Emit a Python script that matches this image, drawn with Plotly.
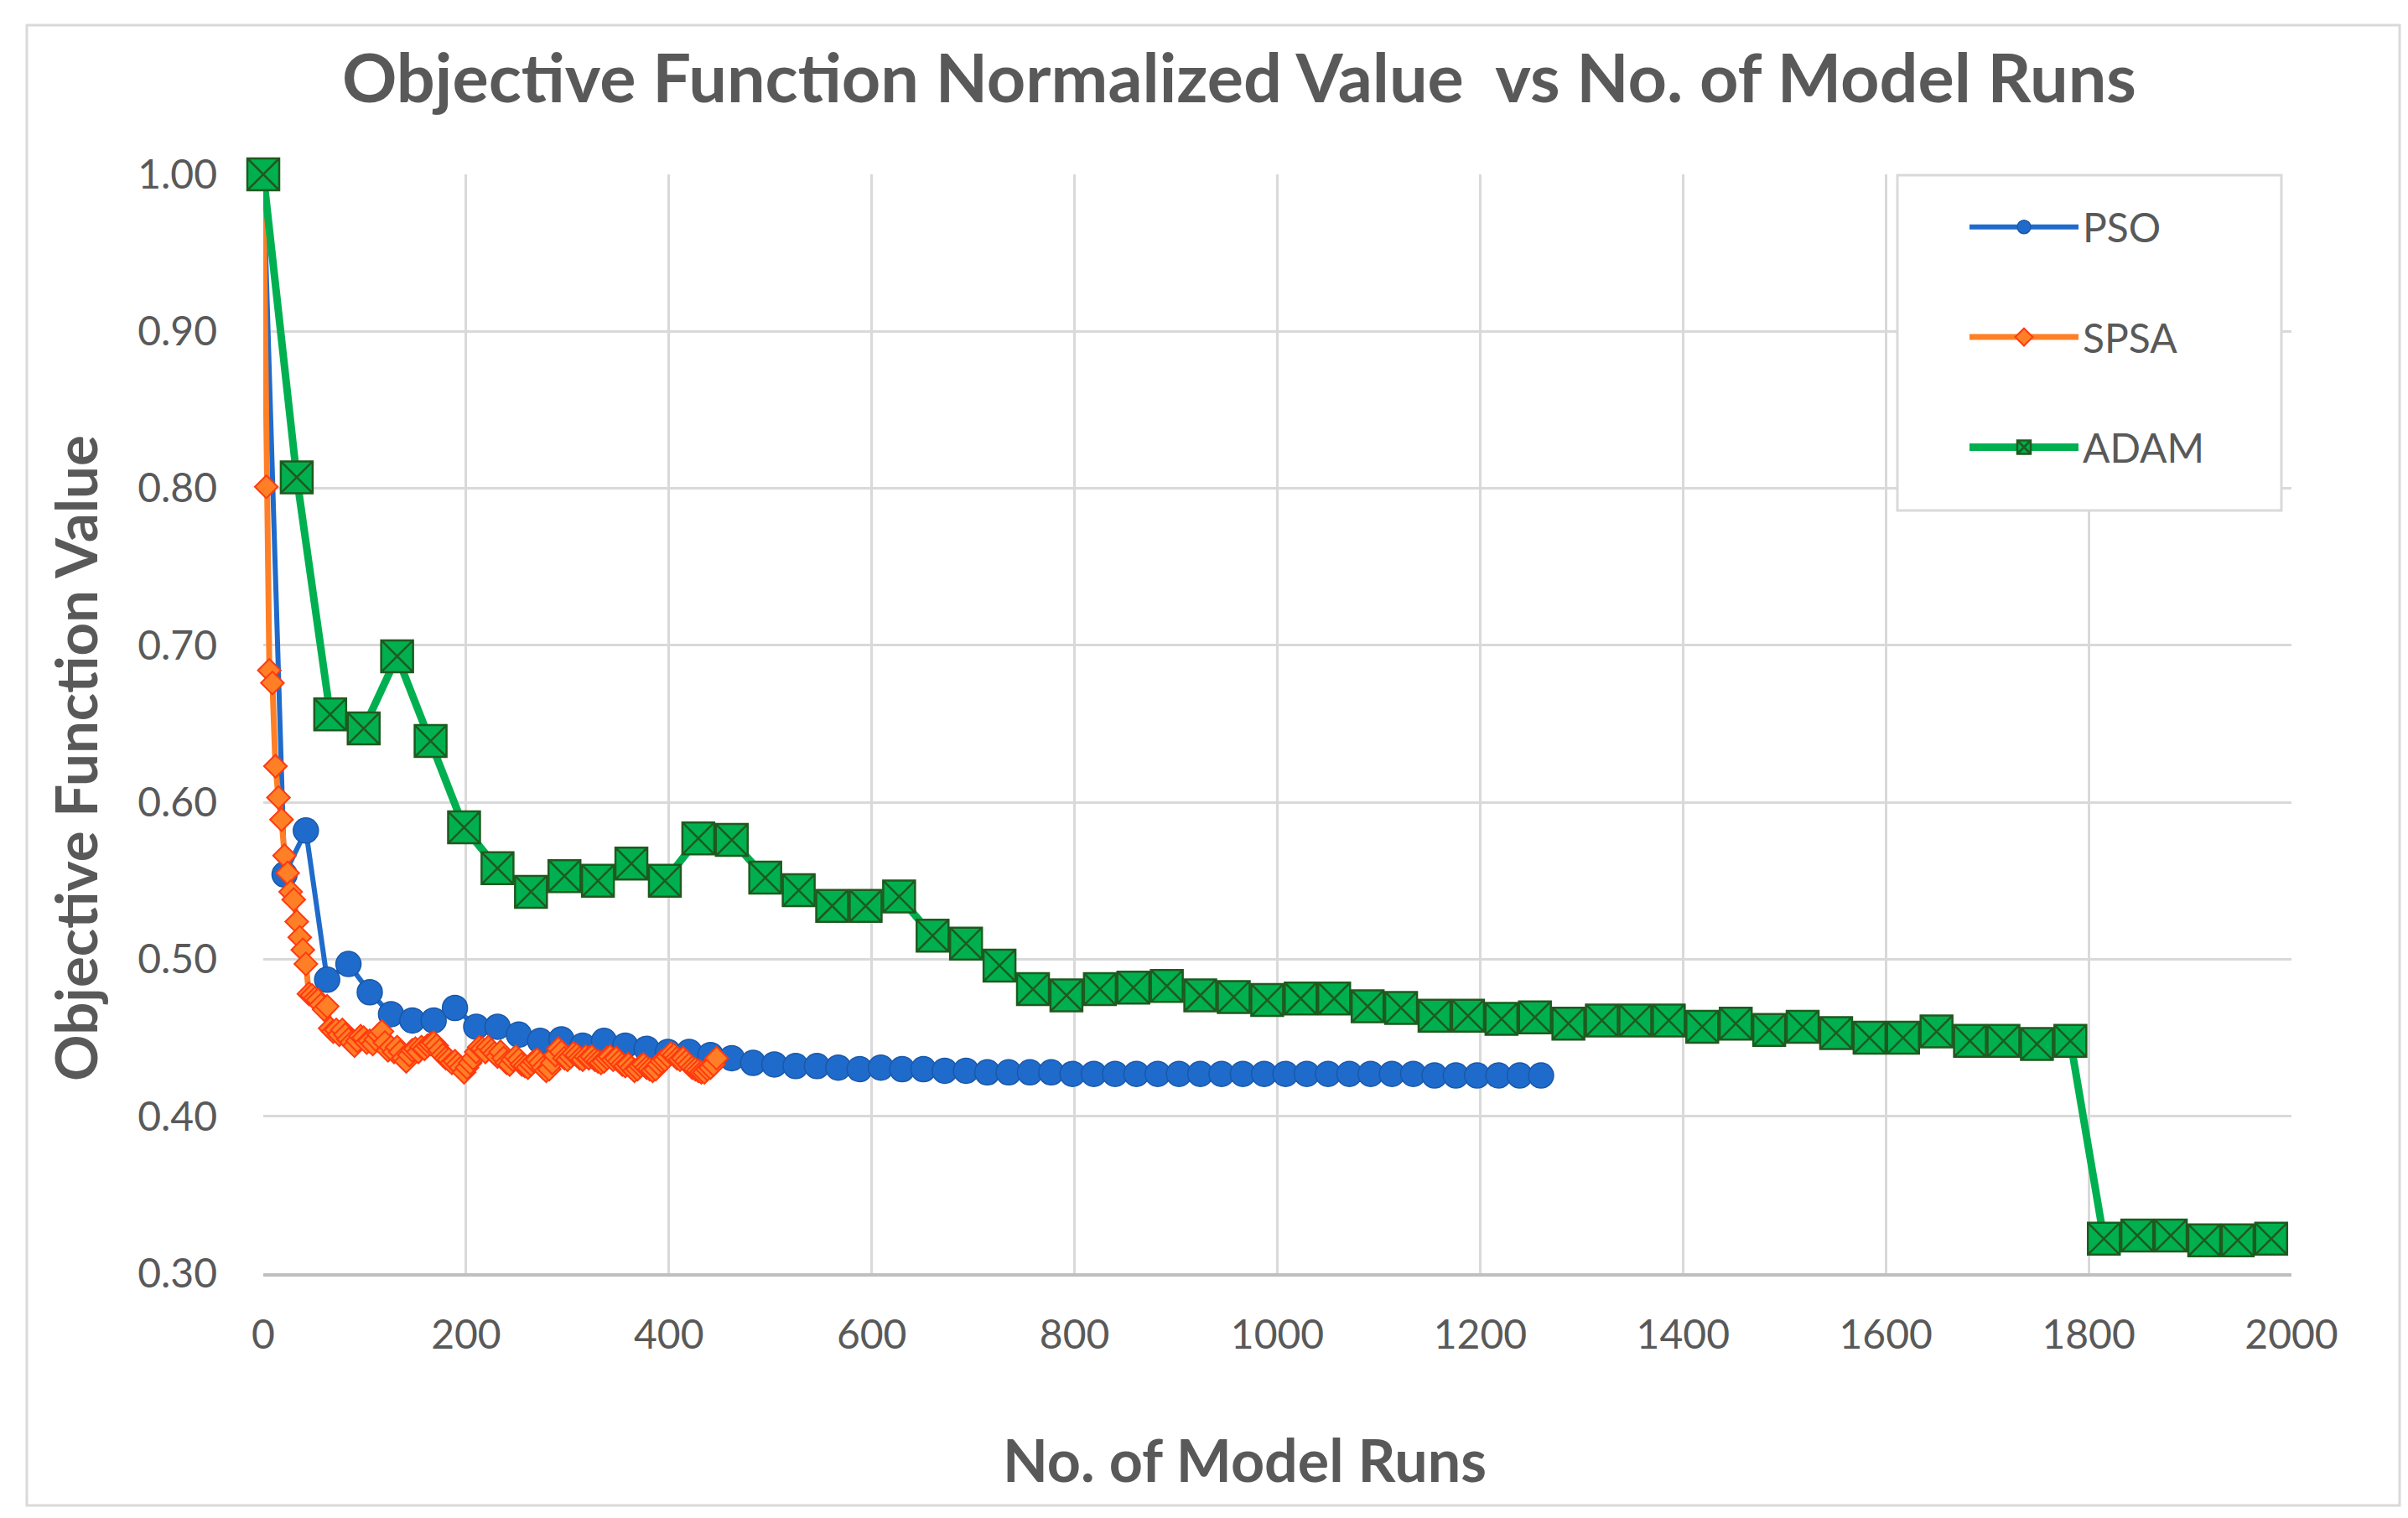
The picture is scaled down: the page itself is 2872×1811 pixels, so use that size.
import plotly.graph_objects as go

# ---------------- data ----------------
pso_x = [0, 21, 42, 63, 84, 105, 126, 147, 168, 189, 210, 231, 252, 273, 294, 315, 336, 357, 378, 399,
         420, 441, 462, 483, 504, 525, 546, 567, 588, 609, 630, 651, 672, 693, 714, 735, 756, 777, 798, 819,
         840, 861, 882, 903, 924, 945, 966, 987, 1008, 1029, 1050, 1071, 1092, 1113, 1134, 1155, 1176, 1197,
         1218, 1239, 1260]
pso_y = [1.000, 0.554, 0.582, 0.487, 0.497, 0.479, 0.465, 0.461, 0.461, 0.469, 0.457, 0.457, 0.452, 0.448,
         0.449, 0.445, 0.448, 0.445, 0.443, 0.441, 0.441, 0.439, 0.437, 0.434, 0.433, 0.432, 0.432, 0.431,
         0.430, 0.431, 0.430, 0.430, 0.429, 0.429, 0.428, 0.428, 0.428, 0.428, 0.427, 0.427, 0.427, 0.427,
         0.427, 0.427, 0.427, 0.427, 0.427, 0.427, 0.427, 0.427, 0.427, 0.427, 0.427, 0.427, 0.427, 0.426,
         0.426, 0.426, 0.426, 0.426, 0.426]

spsa_x = [0, 3, 6, 9, 12, 15, 18, 21, 24, 27, 30, 33, 36, 39, 42, 45, 48, 51, 54, 57,
          60, 63, 66, 69, 72, 75, 78, 81, 84, 87, 90, 93, 96, 99, 102, 105, 108, 111, 114, 117,
          120, 123, 126, 129, 132, 135, 138, 141, 144, 147, 150, 153, 156, 159, 162, 165, 168, 171, 174, 177,
          180, 183, 186, 189, 192, 195, 198, 201, 204, 207, 210, 213, 216, 219, 222, 225, 228, 231, 234, 237,
          240, 243, 246, 249, 252, 255, 258, 261, 264, 267, 270, 273, 276, 279, 282, 285, 288, 291, 294, 297,
          300, 303, 306, 309, 312, 315, 318, 321, 324, 327, 330, 333, 336, 339, 342, 345, 348, 351, 354, 357,
          360, 363, 366, 369, 372, 375, 378, 381, 384, 387, 390, 393, 396, 399, 402, 405, 408, 411, 414, 417,
          420, 423, 426, 429, 432, 435, 438, 441, 444, 447]
spsa_y = [1.000, 0.801, 0.684, 0.676, 0.623, 0.603, 0.589, 0.566, 0.555, 0.543,
          0.538, 0.524, 0.514, 0.506, 0.497, 0.478, 0.477, 0.475, 0.474, 0.471,
          0.468, 0.470, 0.456, 0.454, 0.455, 0.452, 0.455, 0.452, 0.449, 0.447,
          0.445, 0.448, 0.451, 0.450, 0.447, 0.448, 0.446, 0.449, 0.452, 0.454,
          0.447, 0.442, 0.444, 0.441, 0.444, 0.441, 0.437, 0.435, 0.439, 0.442,
          0.443, 0.441, 0.444, 0.443, 0.445, 0.446, 0.447, 0.445, 0.442, 0.439,
          0.437, 0.436, 0.434, 0.435, 0.433, 0.431, 0.428, 0.431, 0.434, 0.437,
          0.441, 0.444, 0.443, 0.441, 0.444, 0.442, 0.440, 0.438, 0.441, 0.437,
          0.434, 0.433, 0.436, 0.438, 0.436, 0.433, 0.432, 0.431, 0.433, 0.435,
          0.436, 0.434, 0.431, 0.429, 0.430, 0.434, 0.439, 0.443, 0.441, 0.437,
          0.436, 0.438, 0.440, 0.439, 0.437, 0.436, 0.438, 0.437, 0.438, 0.436,
          0.435, 0.434, 0.435, 0.437, 0.438, 0.436, 0.437, 0.435, 0.433, 0.432,
          0.433, 0.431, 0.429, 0.430, 0.432, 0.433, 0.431, 0.430, 0.429, 0.430,
          0.433, 0.435, 0.436, 0.438, 0.440, 0.439, 0.437, 0.436, 0.437, 0.435,
          0.433, 0.431, 0.430, 0.429, 0.428, 0.428, 0.430, 0.431, 0.433, 0.437]

adam_x = [0, 33, 66, 99, 132, 165, 198, 231, 264, 297, 330, 363, 396, 429, 462, 495, 528, 561, 594, 627,
          660, 693, 726, 759, 792, 825, 858, 891, 924, 957, 990, 1023, 1056, 1089, 1122, 1155, 1188, 1221,
          1254, 1287, 1320, 1353, 1386, 1419, 1452, 1485, 1518, 1551, 1584, 1617, 1650, 1683, 1716, 1749,
          1782, 1815, 1848, 1881, 1914, 1947, 1980]
adam_y = [1.000, 0.807, 0.656, 0.647, 0.693, 0.639, 0.584, 0.558, 0.543, 0.553, 0.550, 0.561, 0.550,
          0.577, 0.576, 0.552, 0.544, 0.534, 0.534, 0.540, 0.515, 0.510, 0.496, 0.481, 0.477, 0.481,
          0.482, 0.483, 0.477, 0.476, 0.474, 0.475, 0.475, 0.470, 0.469, 0.464, 0.464, 0.462, 0.463,
          0.459, 0.461, 0.461, 0.461, 0.457, 0.459, 0.455, 0.457, 0.453, 0.450, 0.450, 0.454, 0.448,
          0.448, 0.446, 0.448, 0.322, 0.324, 0.324, 0.321, 0.321, 0.322]

x_ticks = [0, 200, 400, 600, 800, 1000, 1200, 1400, 1600, 1800, 2000]
y_ticks = [0.30, 0.40, 0.50, 0.60, 0.70, 0.80, 0.90, 1.00]

# ---------------- figure ----------------
FONT = "Lato"
TXT = "#595959"
GRID = "#d9d9d9"

fig = go.Figure()

fig.add_trace(go.Scatter(
    x=pso_x, y=pso_y, name="PSO", mode="lines+markers", legendgroup="a",
    line=dict(color="#1F6BCB", width=6),
    marker=dict(symbol="circle", size=30, color="#1F6BCB", line=dict(color="#1A58A8", width=1.5)),
    cliponaxis=False,
))
fig.add_trace(go.Scatter(
    x=spsa_x, y=spsa_y, name="SPSA", mode="lines+markers", legendgroup="b",
    line=dict(color="#FF7F27", width=7),
    marker=dict(symbol="diamond", size=21, color="#FF7F27", line=dict(color="#FF3A10", width=2)),
    cliponaxis=False,
))
fig.add_trace(go.Scatter(
    x=adam_x, y=adam_y, name="ADAM", mode="lines+markers", legendgroup="c",
    line=dict(color="#00B050", width=9),
    marker=dict(symbol="square-x", size=38, color="#00B050", line=dict(color="#1E5A1E", width=2.5)),
    cliponaxis=False,
))

L, R, T, B = 306, 2725, 200, 1511
W, H = 2872, 1811

def px(xp):
    return (xp - L) / (R - L)

def py(yp):
    return (B - yp) / (B - T)

fig.update_layout(
    width=W, height=H,
    margin=dict(l=L, r=W - R, t=T, b=H - B, pad=0),
    paper_bgcolor="white", plot_bgcolor="white",
    font=dict(family=FONT, color=TXT),
    title=dict(
        text="<b>Objective Function Normalized Value  vs No. of Model Runs</b>",
        font=dict(family=FONT, size=81, color=TXT),
        x=1470 / W, xanchor="center", xref="container",
        y=1 - 86 / H, yanchor="middle", yref="container",
    ),
    xaxis=dict(
        range=[0, 2000], tickvals=x_ticks, ticktext=[str(v) for v in x_ticks],
        showgrid=True, gridcolor=GRID, gridwidth=3,
        zeroline=False, showline=True, linecolor="#bfbfbf", linewidth=4,
        ticks="", ticklabelstandoff=28,
        tickfont=dict(family=FONT, size=48, color=TXT),
    ),
    yaxis=dict(
        range=[0.3, 1.0], tickvals=y_ticks, ticktext=["%.2f" % v for v in y_ticks],
        showgrid=True, gridcolor=GRID, gridwidth=3,
        zeroline=False, showline=False,
        ticks="", ticklabelstandoff=54,
        tickfont=dict(family=FONT, size=48, color=TXT),
    ),
    legend=dict(
        x=px(2336), y=py(225), xanchor="left", yanchor="top",
        bgcolor="rgba(0,0,0,0)", borderwidth=0,
        font=dict(family=FONT, size=48, color=TXT),
        itemwidth=130, tracegroupgap=66, traceorder="grouped",
        itemsizing="trace",
    ),
    showlegend=True,
    annotations=[
        dict(text="<b>No. of Model Runs</b>", xref="paper", yref="paper",
             x=px(1476), y=py(1733), xanchor="center", yanchor="middle", showarrow=False,
             font=dict(family=FONT, size=70, color=TXT)),
        dict(text="<b>Objective Function Value</b>", xref="paper", yref="paper",
             x=px(82), y=py(897), xanchor="center", yanchor="middle", showarrow=False,
             textangle=-90, font=dict(family=FONT, size=69, color=TXT)),
    ],
    shapes=[
        dict(type="rect", xref="paper", yref="paper",
             x0=px(24), x1=px(2854), y0=py(1788), y1=py(22),
             line=dict(color=GRID, width=3), fillcolor="rgba(0,0,0,0)", layer="below"),
        dict(type="rect", xref="paper", yref="paper",
             x0=px(2255), x1=px(2713), y0=py(601), y1=py(201),
             line=dict(color=GRID, width=3), fillcolor="white", layer="above"),
    ],
)

fig.write_html("out.html")
